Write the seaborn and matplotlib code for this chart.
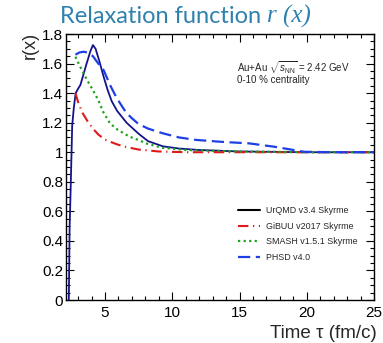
import numpy as np
import pandas as pd
import matplotlib
matplotlib.use("Agg")
import matplotlib.pyplot as plt
from matplotlib.lines import Line2D
from matplotlib.ticker import MultipleLocator, FuncFormatter
import seaborn as sns

# ---- data ----
urqmd_x = [2.31, 2.37, 2.44, 2.56, 2.68, 2.82, 3.0, 3.17, 3.41, 3.6, 3.9, 4.1, 4.3, 4.6, 4.9,
           5.2, 5.5, 5.9, 6.6, 7.5, 8.2, 9.3, 10.5, 12.0, 15.0, 20.0, 25.0]
urqmd_y = [0.0, 0.50, 0.73, 1.18, 1.30, 1.40, 1.43, 1.455, 1.53, 1.59, 1.68, 1.725, 1.70, 1.61, 1.51,
           1.42, 1.345, 1.28, 1.20, 1.125, 1.075, 1.04, 1.025, 1.015, 1.005, 1.0, 1.0]

gibuu_x = [2.8, 3.0, 3.3, 3.7, 4.1, 4.5, 5.0, 5.4, 6.0, 6.6, 7.5, 9.0, 11.0, 15.0, 20.0, 25.0]
gibuu_y = [1.40, 1.34, 1.27, 1.21, 1.16, 1.12, 1.085, 1.07, 1.05, 1.035, 1.018, 1.005, 1.0, 1.0, 1.0, 1.0]

smash_x = [2.8, 3.2, 3.66, 4.1, 4.5, 4.88, 5.37, 5.97, 6.83, 7.56, 8.05, 9.27, 11.0, 15.0, 20.0, 25.0]
smash_y = [1.646, 1.57, 1.49, 1.42, 1.353, 1.27, 1.195, 1.15, 1.105, 1.08, 1.06, 1.03, 1.015, 1.005, 1.0, 1.0]

phsd_x = [2.8, 3.1, 3.4, 3.7, 4.1, 4.5, 4.9, 5.4, 5.85, 6.34, 6.6, 7.0, 7.5, 8.2, 9.3, 10.5, 11.8,
          13.7, 15.7, 17.6, 19.8, 22.0, 25.0]
phsd_y = [1.66, 1.675, 1.68, 1.675, 1.65, 1.60, 1.555, 1.45, 1.37, 1.30, 1.265, 1.23, 1.19, 1.16,
          1.128, 1.10, 1.083, 1.07, 1.06, 1.037, 1.003, 1.0, 1.0]

labels = ["UrQMD v3.4 Skyrme", "GiBUU v2017 Skyrme", "SMASH v1.5.1 Skyrme", "PHSD v4.0"]

# ---- style ----
sns.set_theme(style="ticks")
plt.rcParams['font.family'] = ['Liberation Sans', 'DejaVu Sans']
plt.rcParams['mathtext.fontset'] = 'custom'
plt.rcParams['mathtext.rm'] = 'Liberation Sans'
plt.rcParams['mathtext.it'] = 'Liberation Sans:italic'

W, H = 383, 343
fig = plt.figure(figsize=(W / 100, H / 100), dpi=100)
ax = fig.add_axes([66 / W, 1 - 300 / H, 308 / W, 266 / H])

red_ls = (0, (5, 2.2, 0.6, 2.2))
green_ls = (0, (1.0, 1.5))
blue_ls = (0, (5.5, 2.5))
series = [
    (urqmd_x, urqmd_y, "#14148a", "-", 1.3),
    (gibuu_x, gibuu_y, "#e01a1a", red_ls, 1.5),
    (smash_x, smash_y, "#1fa31f", green_ls, 1.6),
    (phsd_x, phsd_y, "#1f3fe6", blue_ls, 1.6),
]
for (xs, ys, c, ls, lw), lab in zip(series, labels):
    df = pd.DataFrame({"x": xs, "y": ys})
    sns.lineplot(data=df, x="x", y="y", ax=ax, color=c, linestyle=ls, linewidth=lw,
                 sort=False, estimator=None, legend=False)

ax.set_xlim(2.1, 25)
ax.set_ylim(0, 1.8)
ax.xaxis.set_major_locator(MultipleLocator(5))
ax.xaxis.set_minor_locator(MultipleLocator(1))
ax.yaxis.set_major_locator(MultipleLocator(0.2))
ax.yaxis.set_minor_locator(MultipleLocator(0.05))
ax.yaxis.set_major_formatter(FuncFormatter(lambda v, p: ("%g" % round(v, 2))))
ax.tick_params(which='both', direction='in', top=True, right=True, colors='black',
               labelsize=11, width=0.8)
ax.tick_params(which='major', length=6)
ax.tick_params(which='minor', length=3)
ax.tick_params(axis='y', pad=2)
ax.tick_params(axis='x', pad=4)
for s in ax.spines.values():
    s.set_visible(True)
    s.set_linewidth(1.0)
    s.set_color('black')

ax.set_xlabel("")
ax.set_ylabel("")
fig.text(377 / W, 1 - 333 / H, "Time τ (fm/c)", ha='right', va='center', fontsize=13.5)
fig.text(30 / W, 1 - 32 / H, "r(x)", ha='center', va='top', rotation=90, fontsize=13)

# title: sans part + serif italic part
title_col = "#2f81ae"
t1 = fig.text(60 / W, 1 - 23 / H, "Relaxation function ", ha='left', va='baseline',
              fontsize=17, color=title_col, family=['Lato', 'DejaVu Sans'])
fig.canvas.draw()
bb = t1.get_window_extent(renderer=fig.canvas.get_renderer())
fig.text(bb.x1 / W, 1 - 23 / H, "r (x)", ha='left', va='baseline', fontsize=18,
         color=title_col, family=['Liberation Serif', 'DejaVu Serif'], style='italic')

ax.text((237 - 66) / 308, (300 - 72) / 266, "Au+Au $\\sqrt{s_{\\rm NN}}$ = 2.42 GeV",
        transform=ax.transAxes, fontsize=7.0, ha='left', va='baseline')
ax.text((237 - 66) / 308, (300 - 83) / 266, "0-10 % centrality", transform=ax.transAxes,
        fontsize=7.0, ha='left', va='baseline')

handles = [
    Line2D([], [], color="black", linestyle="-", linewidth=1.5),
    Line2D([], [], color="#e01a1a", linestyle=red_ls, linewidth=1.5),
    Line2D([], [], color="#1fa31f", linestyle=green_ls, linewidth=1.6),
    Line2D([], [], color="#1f3fe6", linestyle=blue_ls, linewidth=1.6),
]
ax.legend(handles=handles, labels=labels, loc='upper left',
          bbox_to_anchor=((238 - 66) / 308, (300 - 206) / 266),
          frameon=False, fontsize=6.4, handlelength=2.5, handletextpad=0.6,
          labelspacing=0.75, borderpad=0, borderaxespad=0)

fig.savefig("out.png", dpi=100)
